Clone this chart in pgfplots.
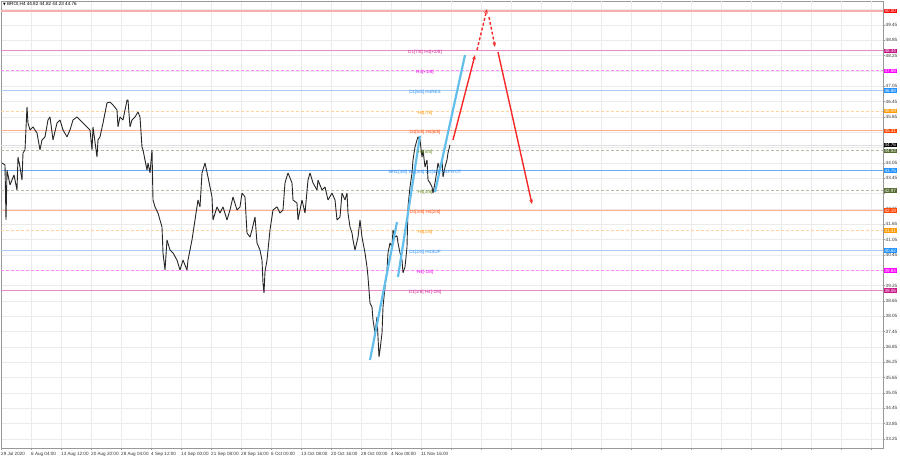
\documentclass[border=0pt]{standalone}
\usepackage{pgfplots}
\pgfplotsset{compat=1.18}
\usetikzlibrary{arrows.meta}
\usepackage{fontspec}
\setmainfont{Liberation Sans}
\newfontfamily\symfont{DejaVu Sans}

% level colours (line / box / text)
\definecolor{redln}{RGB}{248,175,175}
\definecolor{redbx}{RGB}{255,0,0}
\definecolor{violn}{RGB}{230,140,205}
\definecolor{viobx}{RGB}{199,21,133}
\definecolor{viotx}{RGB}{210,40,150}
\definecolor{magln}{RGB}{255,140,255}
\definecolor{magbx}{RGB}{255,0,255}
\definecolor{magtx}{RGB}{240,0,240}
\definecolor{bluln}{RGB}{170,205,245}
\definecolor{blupv}{RGB}{110,170,240}
\definecolor{blubx}{RGB}{30,144,255}
\definecolor{blutx}{RGB}{40,140,240}
\definecolor{orgln}{RGB}{255,210,160}
\definecolor{orgbx}{RGB}{255,153,0}
\definecolor{orgtx}{RGB}{255,150,0}
\definecolor{corln}{RGB}{255,175,150}
\definecolor{corbx}{RGB}{255,69,0}
\definecolor{cortx}{RGB}{255,80,20}
\definecolor{olvln}{RGB}{185,185,170}
\definecolor{olvbx}{RGB}{85,107,47}
\definecolor{olvtx}{RGB}{107,142,35}
\definecolor{trend}{RGB}{100,190,235}
\definecolor{arrow}{RGB}{245,40,40}

\newcommand\lvl[2]{\addplot[#2, forget plot] coordinates {(1,#1) (883,#1)};}

\begin{document}
\begin{tikzpicture}[font=\fontsize{4.6}{5.5}\selectfont]
\useasboundingbox (-1pt,-9pt) rectangle (899pt,448pt);
\begin{axis}[
  at={(0,0)}, anchor=south west,
  scale only axis, width=882pt, height=447pt,
  xmin=1, xmax=883, ymin=32.898, ymax=50.386,
  clip=false,
  axis line style={gray!80, line width=0.5pt},
  tick align=outside, major tick length=2pt,
  tick style={gray!80, line width=0.4pt},
  xtick pos=bottom, ytick pos=right, yticklabel pos=right,
  xtick={1,31,...,421},
  xticklabels={29 Jul 2020,6 Aug 04:00,13 Aug 12:00,20 Aug 20:00,28 Aug 04:00,4 Sep 12:00,14 Sep 00:00,21 Sep 08:00,28 Sep 16:00,6 Oct 00:00,13 Oct 08:00,20 Oct 16:00,28 Oct 00:00,4 Nov 08:00,11 Nov 16:00},
  extra x ticks={451,481,...,871}, extra x tick labels={},
  extra x tick style={grid=major},
  ytick={33.25,33.85,34.45,35.05,35.65,36.25,36.85,37.45,38.05,38.65,39.25,39.85,40.45,41.05,41.65,42.25,42.85,43.45,44.05,44.65,45.25,45.85,46.45,47.05,47.65,48.25,48.85,49.45,50.05},
  yticklabels={33.25,33.85,34.45,35.05,35.65,36.25,36.85,37.45,38.05,38.65,39.25,,40.45,41.05,41.65,42.25,,43.45,44.05,,,45.85,46.45,47.05,,48.25,48.85,49.45,},
  xmajorgrids, ymajorgrids,
  grid style={gray!16, line width=0.4pt},
  xticklabel style={anchor=north west, inner sep=0pt, yshift=-1.5pt, text=black!80, text height=3.4pt, text depth=0.9pt},
  yticklabel style={anchor=west, inner sep=0pt, xshift=0.5pt, text=black!80},
]
% levels
\lvl{50.00}{redln, line width=1.4pt}
\lvl{48.44}{violn, line width=0.5pt}
\lvl{47.66}{magln, line width=0.5pt, dash pattern=on 3pt off 2pt}
\lvl{46.88}{bluln, line width=0.5pt}
\lvl{46.09}{orgln, line width=0.5pt, dash pattern=on 3pt off 2pt}
\lvl{45.31}{corln, line width=0.5pt}
\lvl{44.76}{gray!25, line width=0.4pt}
\lvl{44.53}{olvln, line width=0.5pt, dash pattern=on 3pt off 2pt}
\lvl{43.75}{blupv, line width=0.5pt}
\lvl{42.97}{olvln, line width=0.5pt, dash pattern=on 3pt off 2pt}
\lvl{42.19}{corln, line width=0.5pt}
\lvl{41.41}{orgln, line width=0.5pt, dash pattern=on 3pt off 2pt}
\lvl{40.62}{bluln, line width=0.5pt}
\lvl{39.84}{magln, line width=0.5pt, dash pattern=on 3pt off 2pt}
\lvl{39.06}{violn, line width=0.5pt}

% price, H4
\addplot[black!85, line width=0.9pt, line join=bevel] coordinates {
(2,44.05)(5,43.97)(6,41.82)(7,43.77)(10,43.19)(14,43.58)(17,42.99)(18,44.28)(20,43.89)(22,43.38)
(23,44.44)(25,44.56)(27,46.24)(28,45.61)(30,45.34)(33,45.46)(37,45.22)(40,44.56)(42,44.95)(45,45.07)
(48,45.73)(50,45.85)(53,44.95)(57,45.61)(60,45.73)(63,45.34)(67,45.07)(70,45.34)(73,45.73)(77,45.85)
(80,45.73)(83,45.61)(87,45.46)(90,45.34)(92,44.56)(93,45.46)(97,44.28)(98,44.95)(100,45.07)(103,45.61)
(107,46.40)(110,46.43)(113,46.32)(117,46.12)(118,45.46)(120,45.85)(123,45.73)(127,46.51)(128,46.51)(130,45.46)
(132,45.73)(135,45.85)(138,46.04)(140,45.85)(142,44.67)(143,44.56)(147,43.77)(148,44.05)(150,43.66)(152,44.56)
(153,42.60)(155,42.33)(158,42.09)(162,41.54)(163,40.53)(165,39.86)(167,41.04)(170,40.64)(173,40.53)(177,40.25)
(180,39.86)(183,40.25)(187,39.86)(188,40.25)(192,41.04)(195,41.82)(198,42.60)(200,42.33)(202,43.66)(205,44.05)
(208,43.50)(212,42.72)(213,41.82)(217,42.33)(220,42.09)(223,42.33)(227,41.82)(230,42.21)(233,42.72)(237,42.21)
(240,42.33)(242,42.87)(245,42.72)(247,41.31)(250,41.15)(252,41.43)(255,41.94)(257,40.92)(260,40.64)(262,40.25)
(263,39.35)(264,38.96)(265,39.80)(267,40.25)(270,41.43)(273,42.21)(277,42.33)(280,42.09)(283,42.21)(285,43.27)
(288,43.66)(292,43.27)(293,42.60)(297,42.48)(298,41.82)(302,42.60)(305,42.09)(308,43.38)(310,43.66)(313,43.27)
(317,42.99)(318,43.38)(322,42.99)(325,43.11)(328,42.60)(332,42.87)(335,42.60)(337,41.82)(340,41.94)(342,42.87)
(345,42.60)(347,42.87)(348,42.09)(350,41.54)(352,41.31)(353,41.04)(355,40.64)(358,41.15)(360,41.82)(362,41.15)
(365,40.53)(367,39.98)(368,39.59)(370,38.57)(372,38.41)(373,37.91)(375,37.40)(377,38.02)(378,37.24)(379,36.46)
(380,36.73)(382,37.40)(383,38.41)(385,39.20)(387,39.86)(388,40.53)(390,40.92)(392,40.76)(393,41.43)(395,41.15)
(397,41.20)(398,40.92)(400,40.53)(402,40.25)(403,39.75)(405,39.98)(407,40.76)(408,42.33)(410,43.11)(412,43.66)
(413,44.17)(415,44.67)(417,44.95)(418,45.07)(420,44.95)(422,44.28)(423,44.56)(425,43.89)(427,44.17)(428,43.38)
(430,43.27)(432,43.11)(433,42.87)(435,43.27)(437,43.77)(438,44.05)(440,43.77)(442,44.17)(443,43.50)(445,43.89)
(447,44.17)(448,44.44)(450,44.76)};

% trend channels
\addplot[trend, line width=2.2pt] coordinates {(370,36.34) (397,41.74)};
\addplot[trend, line width=2.2pt] coordinates {(398,39.59) (420,45.11)};
\addplot[trend, line width=2.2pt] coordinates {(435,42.91) (465,48.27)};

% forecast arrows
\addplot[arrow, line width=1.4pt, -{Stealth[length=4.5pt,width=3.6pt]}] coordinates {(453,44.95) (475,48.27)};
\addplot[arrow, line width=1.4pt, dash pattern=on 3pt off 2pt, -{Stealth[length=4.5pt,width=3.6pt]}] coordinates {(477,48.47) (487,50.07)};
\addplot[arrow, line width=1.4pt, dash pattern=on 3pt off 2pt, -{Stealth[length=4.5pt,width=3.6pt]}] coordinates {(489,49.76) (495,48.59)};
\addplot[arrow, line width=1.4pt, -{Stealth[length=4.5pt,width=3.6pt]}] coordinates {(498,48.39) (532,42.44)};

% level names
\begin{scope}[every node/.style={anchor=north, inner sep=0pt, yshift=0.3pt}]
\node[text=viotx] at (axis cs:425,48.44) {D1[7/8] H4[+2/8]};
\node[text=magtx] at (axis cs:425,47.66) {H4[+1/8]};
\node[text=blutx] at (axis cs:425,46.88) {D1[6/8] H4RES};
\node[text=orgtx] at (axis cs:425,46.09) {H4[7/8]};
\node[text=cortx] at (axis cs:425,45.31) {D1[5/8] H4[6/8]};
\node[text=olvtx] at (axis cs:425,44.53) {H4[5/8]};
\node[text=blutx] at (axis cs:425,43.75) {MN1[3/8] W1[3/8] D1[4/8] H4PIVOT};
\node[text=olvtx] at (axis cs:425,42.97) {H4[3/8]};
\node[text=cortx] at (axis cs:425,42.19) {D1[3/8] H4[2/8]};
\node[text=orgtx] at (axis cs:425,41.41) {H4[1/8]};
\node[text=blutx] at (axis cs:425,40.62) {D1[2/8] H4SUP};
\node[text=magtx] at (axis cs:425,39.84) {H4[-1/8]};
\node[text=viotx] at (axis cs:425,39.06) {D1[1/8] H4[-2/8]};
\end{scope}

\node[anchor=west, inner sep=0pt] at (axis cs:3,50.25) {{\symfont\fontsize{3.5}{4}\selectfont ▼} BROI,H4 44.82 44.82 44.23 44.76};

\coordinate (b1) at (axis cs:883,50.00);
\coordinate (b2) at (axis cs:883,48.44);
\coordinate (b3) at (axis cs:883,47.66);
\coordinate (b4) at (axis cs:883,46.88);
\coordinate (b5) at (axis cs:883,46.09);
\coordinate (b6) at (axis cs:883,45.31);
\coordinate (b7) at (axis cs:883,44.76);
\coordinate (b8) at (axis cs:883,44.53);
\coordinate (b9) at (axis cs:883,43.75);
\coordinate (b10) at (axis cs:883,42.97);
\coordinate (b11) at (axis cs:883,42.19);
\coordinate (b12) at (axis cs:883,41.41);
\coordinate (b13) at (axis cs:883,40.62);
\coordinate (b14) at (axis cs:883,39.84);
\coordinate (b15) at (axis cs:883,39.06);
\end{axis}

% price boxes on the scale
\begin{scope}[every node/.style={anchor=west, text=white, inner xsep=0.7pt, inner ysep=0.5pt, xshift=0.6pt}]
\node[fill=redbx] at (b1) {50.00};
\node[fill=viobx] at (b2) {48.44};
\node[fill=magbx] at (b3) {47.66};
\node[fill=blubx] at (b4) {46.88};
\node[fill=orgbx] at (b5) {46.09};
\node[fill=corbx] at (b6) {45.31};
\node[fill=olvbx] at (b8) {44.53};
\node[fill=black] at (b7) {44.76};
\node[fill=blubx] at (b9) {43.75};
\node[fill=olvbx] at (b10) {42.97};
\node[fill=corbx] at (b11) {42.19};
\node[fill=orgbx] at (b12) {41.41};
\node[fill=blubx] at (b13) {40.62};
\node[fill=magbx] at (b14) {39.84};
\node[fill=viobx] at (b15) {39.06};
\end{scope}
\end{tikzpicture}
\end{document}
